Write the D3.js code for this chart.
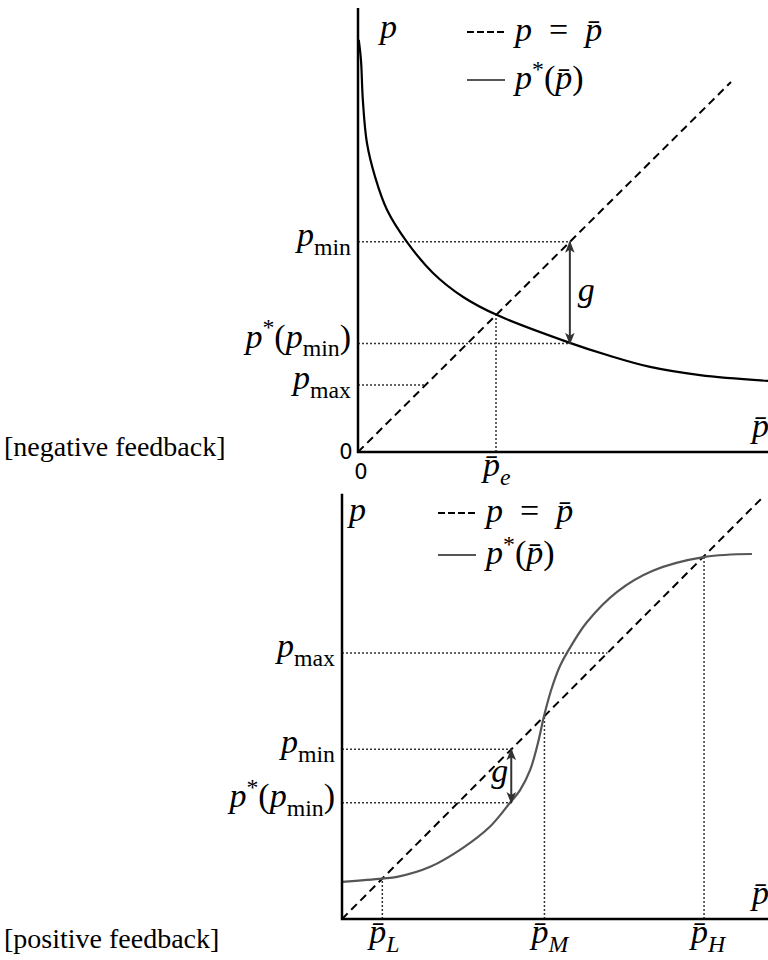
<!DOCTYPE html>
<html>
<head>
<meta charset="utf-8">
<script src="https://cdn.jsdelivr.net/npm/d3@7"></script>
<style>
  body { margin: 0; background: #fff; }
  svg { display: block; }
</style>
</head>
<body>
<svg id="chart" width="768" height="960"></svg>
<script>
// curve, in p-bar / p units (the dashed line is p = p-bar)
var negPbar = [0.02, 0.08, 0.13, 0.24, 0.46, 0.78, 1.31, 2.01, 2.82, 3.73, 5.68, 6.68, 7.83, 9.17, 11.0];
var negPstar = [11.14, 10.59, 9.51, 8.35, 7.43, 6.54, 5.68, 4.84, 4.19, 3.70, 2.95, 2.62, 2.30, 2.08, 1.92];
var negMarks = { pmin: 5.68, pstarMin: 2.93, pmax: 1.81, pe: 3.70 };

var posPbar = [0, 0.95, 1.31, 2.10, 2.88, 3.52, 4.00, 4.24, 4.48, 4.67, 4.81, 4.98, 5.19, 5.48, 5.83, 6.55, 7.40, 8.64, 9.76];
var posPstar = [0.88, 0.96, 1.00, 1.24, 1.69, 2.19, 2.76, 3.06, 3.54, 4.20, 4.82, 5.44, 6.01, 6.53, 7.05, 7.77, 8.27, 8.60, 8.67];
var posMarks = { pmax: 6.32, pmin: 4.03, pstarMin: 2.76, pL: 0.96, pM: 4.82, pH: 8.62 };

var mathFont = "'Liberation Serif', 'DejaVu Serif', serif";
var mathSize = 34;
var BAR = "p\u0304";

var svg = d3.select("#chart");

var defs = svg.append("defs");
defs.append("marker")
    .attr("id", "head")
    .attr("viewBox", "0 0 10 10")
    .attr("refX", 9).attr("refY", 5)
    .attr("markerWidth", 6).attr("markerHeight", 6)
    .attr("markerUnits", "strokeWidth")
    .attr("orient", "auto-start-reverse")
    .append("path")
    .attr("d", "M0,1 L10,5 L0,9 L2.5,5 Z")
    .attr("fill", "#333");

// write a bit of math as tspans: {t, i: italic, sub, sup}
function math(sel, x, y, parts, anchor, size) {
    size = size || mathSize;
    var t = sel.append("text")
        .attr("x", x).attr("y", y)
        .attr("font-family", mathFont)
        .attr("font-size", size + "px")
        .attr("text-anchor", anchor || "start")
        .attr("fill", "#000");
    var shift = 0;
    parts.forEach(function (p) {
        var target = p.sub ? size * 0.26 : (p.sup ? -size * 0.36 : 0);
        var ts = t.append("tspan").text(p.t)
            .attr("dy", target - shift)
            .attr("font-style", p.i ? "italic" : "normal");
        if (p.sub || p.sup) ts.attr("font-size", (size * 0.7) + "px");
        shift = target;
    });
    return t;
}

var pmin = [{t: "p", i: 1}, {t: "min", sub: 1}];
var pmax = [{t: "p", i: 1}, {t: "max", sub: 1}];
var pstarMin = [{t: "p", i: 1}, {t: "*", sup: 1}, {t: "("}, {t: "p", i: 1}, {t: "min", sub: 1}, {t: ")"}];

function panel(cfg) {
    var x = cfg.x, y = cfg.y;
    var g = svg.append("g");
    var line = d3.line().x(function (d) { return x(d[0]); }).y(function (d) { return y(d[1]); });

    // dotted guides
    var dots = g.append("g")
        .attr("stroke", "#333").attr("stroke-width", 1.5)
        .attr("stroke-dasharray", "2,2").attr("fill", "none");
    cfg.hGuides.forEach(function (h) {
        dots.append("path").attr("d", line([[0, h[0]], [h[1], h[0]]]));
    });
    cfg.vGuides.forEach(function (v) {
        dots.append("path").attr("d", line([[v, 0], [v, v]]));
    });

    // p = p-bar
    g.append("path")
        .attr("d", line([[0, 0], [cfg.diagEnd, cfg.diagEnd]]))
        .attr("fill", "none").attr("stroke", "#000")
        .attr("stroke-width", 2).attr("stroke-dasharray", "8,5");

    // p*(p-bar)
    g.append("path")
        .datum(d3.zip(cfg.xs, cfg.ys))
        .attr("d", d3.line().x(function (d) { return x(d[0]); }).y(function (d) { return y(d[1]); })
            .curve(d3.curveCatmullRom.alpha(0.5)))
        .attr("fill", "none").attr("stroke", cfg.curveColor)
        .attr("stroke-width", 2.2);

    // g arrow
    g.append("path")
        .attr("d", line([[cfg.gx, cfg.gTop], [cfg.gx, cfg.gBot]]))
        .attr("stroke", "#333").attr("stroke-width", 2)
        .attr("marker-start", "url(#head)").attr("marker-end", "url(#head)");
    math(g, x(cfg.gx) + cfg.gDx, (y(cfg.gTop) + y(cfg.gBot)) / 2 + cfg.gDy, [{t: "g", i: 1}]);

    // axes
    g.append("path")
        .attr("d", line([[0, cfg.yMax], [0, 0], [cfg.xMax, 0]]))
        .attr("fill", "none").attr("stroke", "#000").attr("stroke-width", 2.5);

    // axis labels
    math(g, x(0) + cfg.pDx, y(cfg.yMax) + cfg.pDy, [{t: "p", i: 1}]);
    math(g, 752, y(0) - 15, [{t: BAR, i: 1}]);

    // legend
    var lx = x(0) + cfg.legX, ly = cfg.legY;
    g.append("line").attr("x1", lx).attr("x2", lx + 38).attr("y1", ly).attr("y2", ly)
        .attr("stroke", "#000").attr("stroke-width", 2).attr("stroke-dasharray", "7,3");
    math(g, lx + 48, ly + 9, [{t: "p", i: 1}, {t: "\u2002=\u2002"}, {t: BAR, i: 1}]);
    g.append("line").attr("x1", lx).attr("x2", lx + 38).attr("y1", ly + cfg.legGap).attr("y2", ly + cfg.legGap)
        .attr("stroke", "#555").attr("stroke-width", 2);
    math(g, lx + 48, ly + cfg.legGap + 9, [{t: "p", i: 1}, {t: "*", sup: 1}, {t: "("}, {t: BAR, i: 1}, {t: ")"}]);

    // guide labels
    cfg.yLabels.forEach(function (l) {
        math(g, x(0) - 7, y(l[0]) + 4, l[1], "end");
    });
    cfg.xLabels.forEach(function (l) {
        math(g, x(l[0]) - 13, y(0) + 24, l[1]);
    });

    svg.append("text")
        .attr("x", 4).attr("y", cfg.captionY)
        .attr("font-family", "'Liberation Serif', serif")
        .attr("font-size", "28px")
        .text(cfg.caption);
    return g;
}

// negative feedback
var xTop = d3.scaleLinear().domain([0, 10]).range([358, 731]);
var yTop = d3.scaleLinear().domain([0, 10]).range([452, 82]);
var topPanel = panel({
    x: xTop, y: yTop,
    xs: negPbar, ys: negPstar, curveColor: "#000",
    diagEnd: 10, xMax: 11.1, yMax: 12.0,
    hGuides: [[negMarks.pmin, negMarks.pmin], [negMarks.pstarMin, negMarks.pmin], [negMarks.pmax, negMarks.pmax]],
    vGuides: [negMarks.pe],
    gx: negMarks.pmin, gTop: negMarks.pmin, gBot: negMarks.pstarMin, gDx: 8, gDy: 8,
    pDx: 22, pDy: 30,
    legX: 109, legY: 32, legGap: 48,
    yLabels: [[negMarks.pmin, pmin], [negMarks.pstarMin, pstarMin], [negMarks.pmax, pmax]],
    xLabels: [[negMarks.pe, [{t: BAR, i: 1}, {t: "e", i: 1, sub: 1}]]],
    caption: "[negative feedback]", captionY: 456
});
var zeroFont = { "font-family": "'DejaVu Sans', sans-serif", "font-size": "21px", "text-anchor": "middle" };
var z1 = topPanel.append("text").attr("x", xTop(0) - 12).attr("y", yTop(0) + 7).text("0");
var z2 = topPanel.append("text").attr("x", xTop(0) + 3).attr("y", yTop(0) + 27).text("0");
Object.keys(zeroFont).forEach(function (k) { z1.attr(k, zeroFont[k]); z2.attr(k, zeroFont[k]); });

// positive feedback
var xBot = d3.scaleLinear().domain([0, 10]).range([342, 762]);
var yBot = d3.scaleLinear().domain([0, 10]).range([919, 498]);
panel({
    x: xBot, y: yBot,
    xs: posPbar, ys: posPstar, curveColor: "#555",
    diagEnd: 10, xMax: 10.15, yMax: 10.1,
    hGuides: [[posMarks.pmax, posMarks.pmax], [posMarks.pmin, posMarks.pmin], [posMarks.pstarMin, posMarks.pmin]],
    vGuides: [posMarks.pL, posMarks.pM, posMarks.pH],
    gx: posMarks.pmin, gTop: posMarks.pmin, gBot: posMarks.pstarMin, gDx: -20, gDy: 6,
    pDx: 7, pDy: 27,
    legX: 96, legY: 513, legGap: 42,
    yLabels: [[posMarks.pmax, pmax], [posMarks.pmin, pmin], [posMarks.pstarMin, pstarMin]],
    xLabels: [
        [posMarks.pL, [{t: BAR, i: 1}, {t: "L", i: 1, sub: 1}]],
        [posMarks.pM, [{t: BAR, i: 1}, {t: "M", i: 1, sub: 1}]],
        [posMarks.pH, [{t: BAR, i: 1}, {t: "H", i: 1, sub: 1}]]
    ],
    caption: "[positive feedback]", captionY: 948
});
</script>
</body>
</html>
